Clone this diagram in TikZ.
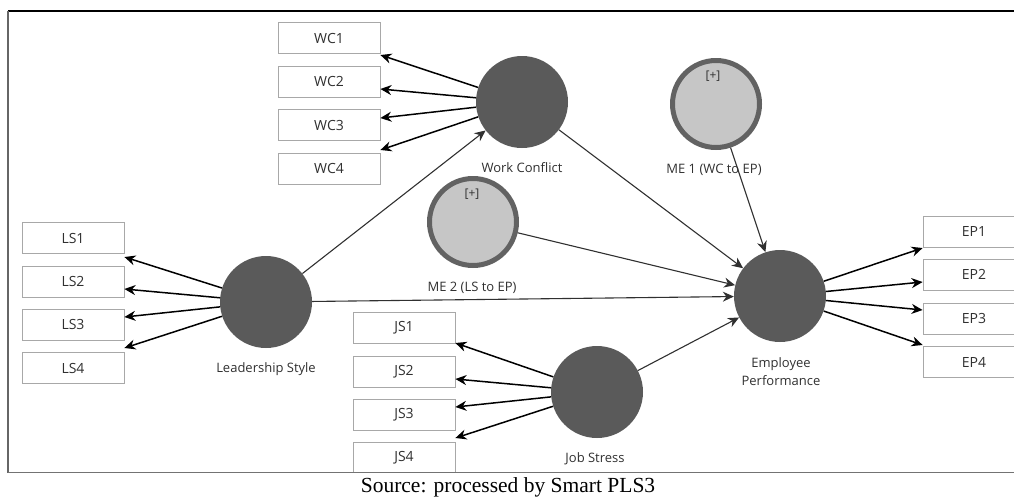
\documentclass[tikz,border=0pt]{standalone}
\usepackage{fontspec}
\setsansfont{Open Sans}
\setmainfont{Liberation Serif}
\usetikzlibrary{arrows.meta,calc}
\definecolor{latent}{HTML}{5A5A5A}
\definecolor{ring}{HTML}{626262}
\definecolor{mefill}{HTML}{C6C6C6}
\definecolor{boxline}{HTML}{A8A8A8}
\definecolor{txt}{HTML}{303030}
\definecolor{pathline}{HTML}{303030}
\tikzset{
  lv/.style={circle,fill=latent,draw=none,minimum size=92pt,inner sep=0pt},
  me/.style={circle,fill=mefill,draw=ring,line width=5pt,minimum size=87pt,inner sep=0pt},
  ind/.style={rectangle,draw=boxline,line width=0.8pt,fill=white,minimum width=102pt,minimum height=31pt,inner sep=0pt,
    font=\sffamily\fontsize{14}{16}\selectfont,text=txt},
  lbl/.style={font=\sffamily\fontsize{13}{18}\selectfont,text=txt,inner sep=0pt,align=center},
  plus/.style={font=\sffamily\fontsize{12}{14}\selectfont,text=txt,inner sep=0pt},
  load/.style={line width=1.5pt,black,-{Stealth[length=11pt,width=10pt]}},
  pth/.style={line width=1.1pt,pathline,-{Stealth[length=11pt,width=10pt]}},
}
\begin{document}
\begin{tikzpicture}[x=1pt,y=-1pt]
\useasboundingbox (0,0) rectangle (1014,499);
% indicator boxes
\node[ind] (wc1) at (329,38) {WC1};
\node[ind] (wc2) at (329,81.5) {WC2};
\node[ind] (wc3) at (329,125) {WC3};
\node[ind] (wc4) at (329,168.5) {WC4};
\node[ind] (ls1) at (73,238) {LS1};
\node[ind] (ls2) at (73,281.5) {LS2};
\node[ind] (ls3) at (73,324.5) {LS3};
\node[ind] (ls4) at (73,368) {LS4};
\node[ind] (js1) at (404,328) {JS1};
\node[ind] (js2) at (404,371.5) {JS2};
\node[ind] (js3) at (404,414.5) {JS3};
\node[ind] (js4) at (404,458) {JS4};
\node[ind] (ep1) at (974,231.5) {EP1};
\node[ind] (ep2) at (974,274.5) {EP2};
\node[ind] (ep3) at (974,318.5) {EP3};
\node[ind] (ep4) at (974,362) {EP4};
% latent variables
\node[lv] (wc) at (522,102) {};
\node[lv] (ls) at (266,302) {};
\node[lv] (js) at (597,392) {};
\node[lv] (ep) at (780,296) {};
\node[me] (me1) at (716,104) {};
\node[me] (me2) at (473,222) {};
\node[plus] (p1) at (713,76) {[+]};
\node[plus] (p2) at (472,194) {[+]};
% labels
\node[lbl] (lwc) at (522,168) {Work Conflict};
\node[lbl] (lls) at (266,369) {Leadership Style};
\node[lbl] (ljs) at (595,459) {Job Stress};
\node[lbl] (lep) at (781,372) {Employee\\Performance};
\node[lbl] (lme1) at (714,170) {ME 1 (WC to EP)};
\node[lbl] (lme2) at (472,288) {ME 2 (LS to EP)};
% arrow tip coordinates on indicators
\coordinate (twc1) at ([yshift=-17pt]wc1.east);
\coordinate (twc2) at ([yshift=-7.5pt]wc2.east);
\coordinate (twc3) at ([yshift=7pt]wc3.east);
\coordinate (twc4) at ([yshift=18.5pt]wc4.east);
\coordinate (tls1) at ([yshift=-19pt]ls1.east);
\coordinate (tls2) at ([yshift=-7.5pt]ls2.east);
\coordinate (tls3) at ([yshift=7.5pt]ls3.east);
\coordinate (tls4) at ([yshift=20pt]ls4.east);
\coordinate (tjs1) at ([yshift=-15pt]js1.east);
\coordinate (tjs2) at ([yshift=-7.5pt]js2.east);
\coordinate (tjs3) at ([yshift=7.5pt]js3.east);
\coordinate (tjs4) at ([yshift=20pt]js4.east);
\coordinate (tep1) at ([yshift=-16.5pt]ep1.west);
\coordinate (tep2) at ([yshift=-7.5pt]ep2.west);
\coordinate (tep3) at ([yshift=8.5pt]ep3.west);
\coordinate (tep4) at ([yshift=17pt]ep4.west);
% loadings
\foreach \i in {1,2,3,4}{
  \draw[load] (wc) -- (twc\i);
  \draw[load] (ls) -- (tls\i);
  \draw[load] (js) -- (tjs\i);
  \draw[load] (ep) -- (tep\i);
}
% structural paths
\draw[pth] (ls) -- (wc);
\draw[pth] (wc) -- (ep);
\draw[pth] (ls) -- (ep);
\draw[pth] (me2) -- (ep);
\draw[pth] (me1) -- (ep);
\draw[pth] (js) -- (ep);
% frame
\fill[white] (0,473.4) rectangle (1014,499);
\draw[black,line width=1.3pt] (8,11) -- (1014,11);
\draw[gray!80!black,line width=1.6pt] (8,11) -- (8,473);
\draw[gray!90!black,line width=1.8pt] (8,472.5) -- (1014,472.5);
% caption
\node[font=\fontsize{21.5}{24}\selectfont,inner sep=0pt] (cap) at (508,487) {Source: processed by Smart PLS3};
\end{tikzpicture}
\end{document}
